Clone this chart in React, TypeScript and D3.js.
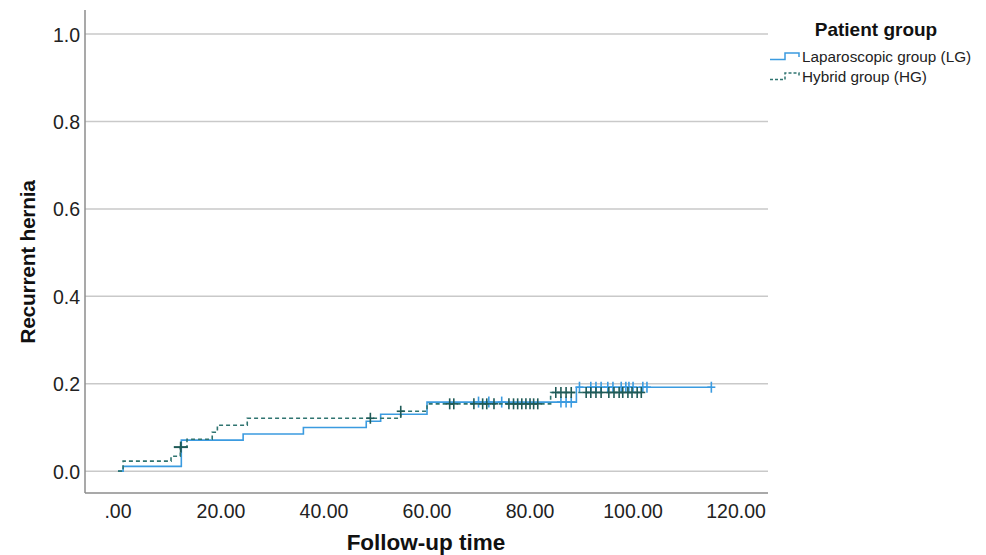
import React from "react";
import * as d3 from "d3";

// cumulative recurrence
const lgTimes = [0, 1.0, 12.3, 24.3, 36.0, 48.2, 51.0, 60.0, 89.0, 115.2];
const lgValues = [0, 0.011, 0.071, 0.085, 0.1, 0.114, 0.13, 0.158, 0.192, 0.192];
const lgCensored = [70.0, 72.0, 74.5, 86.0, 87.0, 88.0, 89.6, 91.8, 92.8, 93.8, 95.1, 96.1, 97.7, 98.6, 99.2, 100.0, 101.9, 102.7, 115.2];

const hgTimes = [0, 1.0, 10.3, 12.1, 13.4, 18.3, 19.3, 25.1, 54.9, 60.0, 84.0, 101.6];
const hgValues = [0, 0.023, 0.034, 0.055, 0.073, 0.089, 0.105, 0.121, 0.137, 0.154, 0.18, 0.18];
const hgCensored = [12.2, 49.0, 54.9, 64.4, 65.2, 69.1, 70.8, 71.6, 73.0, 75.9, 76.8, 77.6, 78.4, 79.2, 80.0, 80.7, 81.5, 85.0, 86.0, 87.0, 88.0, 90.9, 91.8, 92.8, 93.8, 95.3, 96.3, 97.3, 98.0, 99.0, 99.8, 100.8, 101.6];

const xTicks = [0, 20, 40, 60, 80, 100, 120];
const xTickLabels = [".00", "20.00", "40.00", "60.00", "80.00", "100.00", "120.00"];
const yTicks = [0, 0.2, 0.4, 0.6, 0.8, 1.0];

const groups = [
  { name: "Laparoscopic group (LG)", times: lgTimes, values: lgValues, censored: lgCensored, color: "#3b9be0", mark: "#3b9be0", dash: null },
  { name: "Hybrid group (HG)", times: hgTimes, values: hgValues, censored: hgCensored, color: "#2f7470", mark: "#1f5a57", dash: "4,3" },
];

const W = 986;
const H = 555;
const FONT = "'Liberation Sans', Arial, sans-serif";

export default function App() {
  const x = d3.scaleLinear().domain([-6.4, 126.2]).range([85, 768]);
  const y = d3.scaleLinear().domain([-0.05, 1.055]).range([493, 10]);

  const line = d3
    .line<[number, number]>()
    .x((d) => x(d[0]))
    .y((d) => y(d[1]))
    .curve(d3.curveStepAfter);

  // value of step function at time t
  const valueAt = (times: number[], values: number[], t: number) => {
    const i = d3.bisectRight(times, t) - 1;
    return values[Math.max(0, i)];
  };

  return (
    <svg width={W} height={H} style={{ position: "absolute", left: 0, top: 0, background: "#fff" }}>
      {/* gridlines */}
      {yTicks.map((t) => (
        <line key={t} x1={85} x2={768} y1={y(t)} y2={y(t)} stroke="#c9c9c9" strokeWidth={1.5} />
      ))}
      {/* axes */}
      <line x1={85} x2={85} y1={10} y2={493} stroke="#8c8c8c" strokeWidth={1.5} />
      <line x1={85} x2={768} y1={493} y2={493} stroke="#8c8c8c" strokeWidth={1.5} />

      {yTicks.map((t) => (
        <text key={t} x={80} y={y(t) + 7.5} textAnchor="end" fontFamily={FONT} fontSize={19.5} fill="#222">
          {t.toFixed(1)}
        </text>
      ))}
      {xTicks.map((t, i) => (
        <text key={t} x={x(t)} y={518} textAnchor="middle" fontFamily={FONT} fontSize={19.5} fill="#222">
          {xTickLabels[i]}
        </text>
      ))}

      <text
        transform={`translate(35,262) rotate(-90)`}
        textAnchor="middle"
        fontFamily={FONT}
        fontSize={21}
        fontWeight="bold"
        letterSpacing={-0.3}
        fill="#111"
      >
        Recurrent hernia
      </text>
      <text x={426} y={550} textAnchor="middle" fontFamily={FONT} fontSize={22.5} fontWeight="bold" fill="#111">
        Follow-up time
      </text>

      {/* curves */}
      {groups.map((g) => (
        <g key={g.name}>
          <path
            d={line(g.times.map((t, i) => [t, g.values[i]] as [number, number])) || ""}
            fill="none"
            stroke={g.color}
            strokeWidth={1.6}
            strokeDasharray={g.dash || undefined}
          />
          {g.censored.map((t, i) => {
            const cx = x(t);
            const cy = y(valueAt(g.times, g.values, t));
            const big = t < 20;
            const hw = big ? 7 : 4;
            return (
              <g key={i} stroke={g.mark} strokeWidth={big ? 2 : 1.6}>
                <line x1={cx - hw} x2={cx + hw} y1={cy} y2={cy} />
                <line x1={cx} x2={cx} y1={cy - 5.5} y2={cy + 5.5} />
              </g>
            );
          })}
        </g>
      ))}

      {/* legend */}
      <text x={876} y={36} textAnchor="middle" fontFamily={FONT} fontSize={19} fontWeight="bold" fill="#111">
        Patient group
      </text>
      {groups.map((g, i) => {
        const ly = 59.5 + i * 20;
        return (
          <g key={g.name}>
            <path
              d={`M770,${ly} H785 V${ly - 6.5} H799 V${ly - 2.5}`}
              fill="none"
              stroke={g.color}
              strokeWidth={1.5}
              strokeDasharray={g.dash ? "3,2" : undefined}
            />
            <text x={802} y={ly + 2.2} fontFamily={FONT} fontSize={15.3} fill="#222">
              {g.name}
            </text>
          </g>
        );
      })}
    </svg>
  );
}
